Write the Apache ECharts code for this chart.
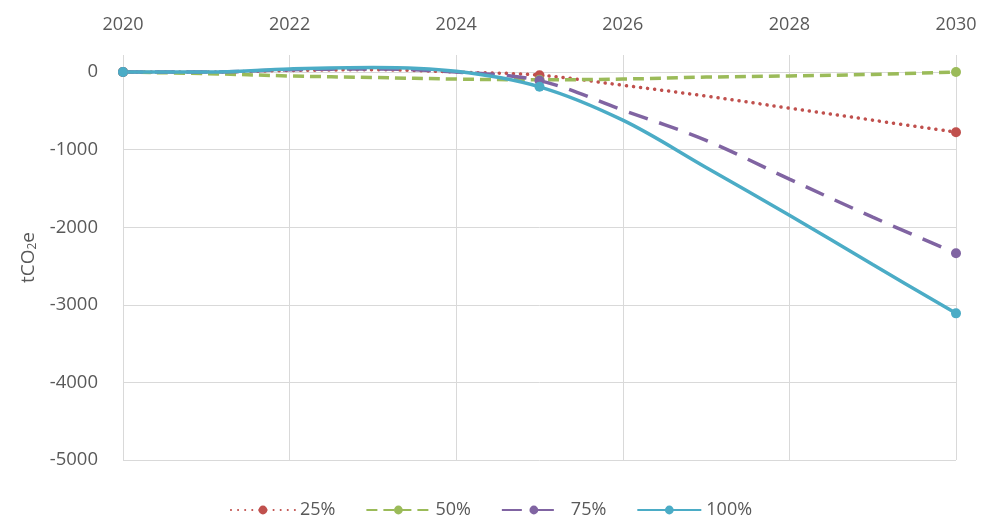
<!DOCTYPE html>
<html>
<head>
<meta charset="utf-8">
<script src="https://cdn.jsdelivr.net/npm/echarts@6/dist/echarts.min.js"></script>
<style>html,body{margin:0;padding:0;background:#fff}#c{width:982px;height:520px}</style>
</head>
<body>
<div id="c"></div>
<script>
const years = [2020, 2021, 2022, 2023, 2024, 2025, 2026, 2027, 2028, 2029, 2030];
const markerYears = [2020, 2025, 2030];
const seriesNames = ['25%', '50%', '75%', '100%'];
const s25 = [0, 0, 20, 30, 0, -40, -170, -310, -465, -620, -775];
const s50 = [0, -20, -50, -70, -90, -100, -90, -65, -50, -30, 0];
const s75 = [0, 0, 30, 40, 0, -110, -490, -880, -1380, -1870, -2335];
const s100 = [0, 0, 40, 60, 10, -190, -620, -1230, -1845, -2480, -3110];
const xTicks = [2020, 2022, 2024, 2026, 2028, 2030];
const yTicks = [0, -1000, -2000, -3000, -4000, -5000];

function build(vals) {
  return years.map((y, i) => {
    const item = { value: [y, vals[i]] };
    if (markerYears.indexOf(y) < 0) item.symbol = 'none';
    return item;
  });
}
const colors = ['#C0504D', '#9BBB59', '#8064A2', '#4BACC6'];
const styles = [
  { type: [0.1, 7], cap: 'round', width: 3.5 },
  { type: [11, 6], width: 3.5 },
  { type: [20, 12], width: 3.5 },
  { type: 'solid', width: 3.5 }
];
const data = [s25, s50, s75, s100];
const FONT = 'Open Sans, sans-serif';

const chart = echarts.init(document.getElementById('c'), null, { renderer: 'canvas' });
chart.setOption({
  animation: false,
  backgroundColor: '#fff',
  grid: { left: 123, right: 26, top: 55, bottom: 60 },
  xAxis: {
    type: 'value', position: 'top', min: 2020, max: 2030, interval: 2,
    axisLine: { show: false }, axisTick: { show: false },
    axisLabel: { color: '#595959', fontSize: 18, fontFamily: FONT, margin: 21,
      formatter: v => xTicks.indexOf(v) >= 0 ? String(v) : '' },
    splitLine: { show: true, lineStyle: { color: '#D9D9D9', width: 1 } }
  },
  yAxis: {
    type: 'value', min: -5000, max: 220, interval: 1000,
    axisLine: { show: false }, axisTick: { show: false },
    axisLabel: { color: '#595959', fontSize: 18.5, fontFamily: FONT, margin: 25,
      formatter: v => yTicks.indexOf(v) >= 0 ? String(v) : '' },
    splitLine: { show: true, showMaxLine: false, lineStyle: { color: '#D9D9D9', width: 1 } },
    name: 'tCO{sub|2}e', nameLocation: 'middle', nameGap: 76, nameRotate: 90,
    nameTextStyle: { color: '#595959', fontSize: 19, fontFamily: FONT,
      rich: { sub: { fontSize: 12, color: '#595959', fontFamily: FONT, verticalAlign: 'bottom', padding: [8, 0, 0, 0] } } }
  },
  legend: {
    top: 496, left: 'center', itemWidth: 64, itemHeight: 11, itemGap: 30,
    textStyle: { color: '#595959', fontSize: 18, fontFamily: FONT },
    data: seriesNames
  },
  series: seriesNames.map((n, i) => ({
    name: n, type: 'line', smooth: 0.35,
    symbol: 'circle', symbolSize: 10,
    color: colors[i],
    itemStyle: { color: colors[i] },
    lineStyle: Object.assign({ color: colors[i] }, styles[i]),
    data: build(data[i])
  }))
});
</script>
</body>
</html>
